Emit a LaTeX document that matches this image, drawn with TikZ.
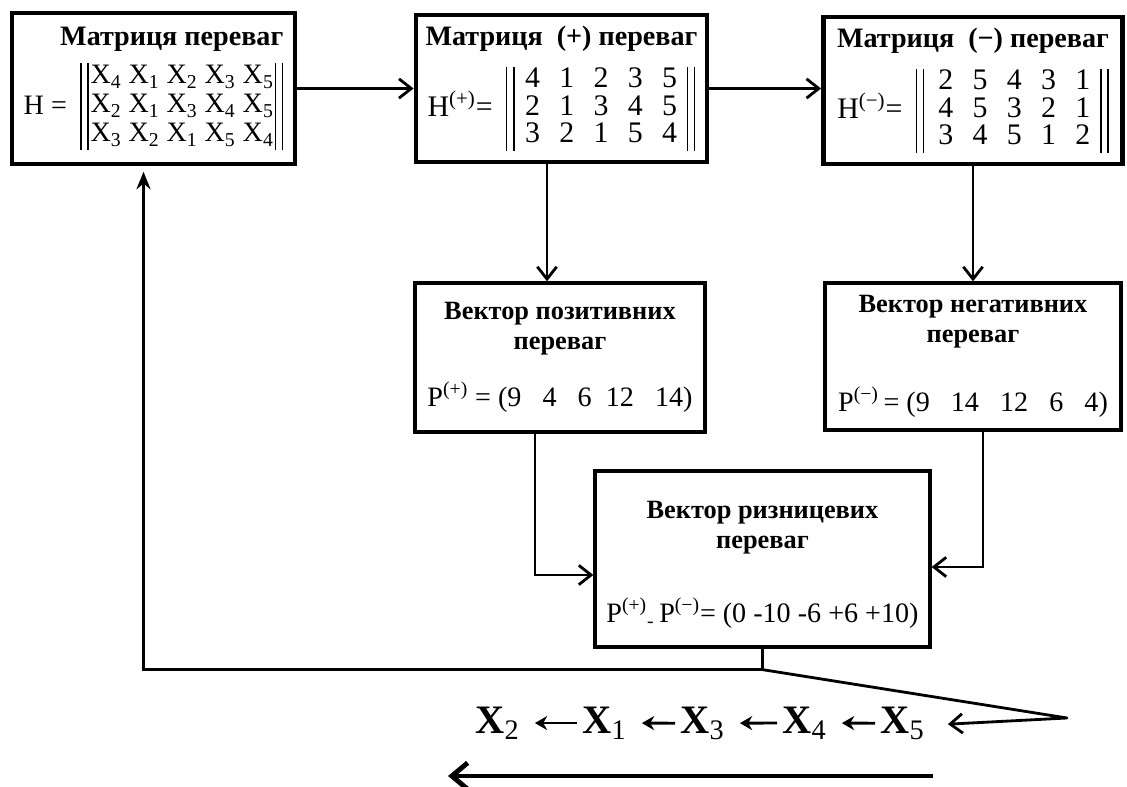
\documentclass[tikz,border=0pt]{standalone}
\usepackage{fontspec}
\setmainfont{Liberation Serif}
\usetikzlibrary{positioning, arrows.meta}
\setlength{\doublerulesep}{4pt}
\setlength{\arrayrulewidth}{0.9pt}

\begin{document}
\begin{tikzpicture}[
  x=0.02cm, y=-0.02cm,
  font=\fontsize{15}{17}\selectfont,
  mbox/.style={draw, rectangle, line width=2.8pt, inner sep=2pt, align=center},
  vbox/.style={draw, rectangle, line width=1.9pt, inner sep=2pt, align=center},
  arr/.style={-{Straight Barb[length=7pt, width=11pt]}, line width=1.6pt},
  uparr/.style={-{Stealth[length=10pt, width=8pt]}, line width=1.6pt},
  link/.style={line width=1.6pt},
  chainx/.style={font=\fontsize{23}{26}\selectfont\bfseries, inner sep=0pt, anchor=base west},
  small/.style={-{Stealth[length=7pt, width=8pt]}, line width=1.6pt,
    shorten >=0.3cm, shorten <=0.1cm},
  bigarr/.style={-{Straight Barb[length=9pt, width=15pt]}, line width=2.8pt},
]
  \renewcommand{\arraystretch}{0.9}
  \useasboundingbox (0,0) rectangle (1127,787);

  % Row 1: the three matrices
  \node[mbox, minimum width=5.66cm, minimum height=3.02cm, align=right] (mat) at (153.5,88.5)
    {{\fontsize{16}{18}\selectfont\bfseries Матриця переваг}\\[6pt]
     \renewcommand{\arraystretch}{0.97}%
     \fontsize{16}{17}\selectfont H =\hspace{8pt}\begin{tabular}{@{}||@{\hspace{1pt}}l*{4}{@{\hspace{4pt}}l}@{\hspace{1pt}}||@{}}
       X\textsubscript{4} & X\textsubscript{1} & X\textsubscript{2} & X\textsubscript{3} & X\textsubscript{5}\\
       X\textsubscript{2} & X\textsubscript{1} & X\textsubscript{3} & X\textsubscript{4} & X\textsubscript{5}\\
       X\textsubscript{3} & X\textsubscript{2} & X\textsubscript{1} & X\textsubscript{5} & X\textsubscript{4}
     \end{tabular}};
  \node[mbox, minimum width=5.82cm, minimum height=2.94cm] (plus) at (561.5,88.5)
    {{\fontsize{16}{18}\selectfont\bfseries Матриця\ \ (+) переваг}\\[8pt]
     \fontsize{17}{17}\selectfont H\textsuperscript{(+)}=\hspace{8pt}\begin{tabular}{@{}||@{\hspace{6pt}}c*{4}{@{\hspace{11pt}}c}@{\hspace{6pt}}||@{}}
       4 & 1 & 2 & 3 & 5\\
       2 & 1 & 3 & 4 & 5\\
       3 & 2 & 1 & 5 & 4
     \end{tabular}};
  \node[mbox, minimum width=5.98cm, minimum height=2.94cm] (minus) at (973,90.5)
    {{\fontsize{16}{18}\selectfont\bfseries Матриця\ \ (−) переваг}\\[8pt]
     \fontsize{17}{17}\selectfont H\textsuperscript{(−)}=\hspace{8pt}\begin{tabular}{@{}||@{\hspace{8pt}}c*{4}{@{\hspace{11pt}}c}@{\hspace{6pt}}||@{}}
       2 & 5 & 4 & 3 & 1\\
       4 & 5 & 3 & 2 & 1\\
       3 & 4 & 5 & 1 & 2
     \end{tabular}};

  % Row 2: positive and negative vectors
  \node[vbox, minimum width=5.8cm, minimum height=2.98cm] (pos) at (560,357.5)
    {{\bfseries Вектор позитивних}\\{\bfseries переваг}\\[14pt]
     \fontsize{16}{18}\selectfont P\textsuperscript{(+)} = (9\enspace\ 4\enspace\ 6\enspace 12\enspace\ 14)};
  \node[vbox, minimum width=5.92cm, minimum height=2.94cm] (neg) at (973,356.5)
    {{\bfseries Вектор негативних}\\{\bfseries переваг}\\[21pt]
     \fontsize{16}{18}\selectfont P\textsuperscript{(−)}\,= (9\enspace\ 14\enspace\ 12\enspace\ 6\enspace\ 4)};

  % Row 3: difference vector
  \node[vbox, minimum width=6.7cm, minimum height=3.52cm] (diff) at (762.5,559)
    {\rule{0pt}{17pt}{\bfseries Вектор ризницевих}\\{\bfseries переваг}\\[24pt]
     \fontsize{16}{18}\selectfont P\textsuperscript{(+)}\textsubscript{-}\,P\textsuperscript{(−)}= (0 -10 -6 +6 +10)};

  % Ranking chain
  \node[chainx] (x2) at (475,733) {X\textsubscript{\mdseries 2}};
  \node[chainx] (x1) at (582,733) {X\textsubscript{\mdseries 1}};
  \node[chainx] (x3) at (680,733) {X\textsubscript{\mdseries 3}};
  \node[chainx] (x4) at (782,733) {X\textsubscript{\mdseries 4}};
  \node[chainx] (x5) at (880,733) {X\textsubscript{\mdseries 5}};
  \draw[small] (x1.west) -- (x2.east);
  \draw[small] (x3.west) -- (x1.east);
  \draw[small] (x4.west) -- (x3.east);
  \draw[small] (x5.west) -- (x4.east);

  % Arrows between blocks
  \draw[arr] (mat.east) -- (plus.west);
  \draw[arr] (plus.east) -- (plus.east -| minus.west);
  \draw[arr] ([xshift=-0.29cm]plus.south) -- ([xshift=-0.29cm]plus.south |- pos.north);
  \draw[arr] (minus.south) -- (minus.south |- neg.north);
  \draw[arr] ([xshift=-0.5cm]pos.south) |- ([yshift=-0.32cm]diff.west);
  \draw[arr] ([xshift=0.2cm]neg.south) |- ([yshift=-0.16cm]diff.east);

  % Feedback loop and ordering
  \coordinate (fork) at ([yshift=-0.42cm]diff.south);
  \coordinate (turn) at (1067,718);
  \draw[link] (diff.south) -- (fork);
  \draw[uparr, shorten >=3pt] (fork) -| ([xshift=-0.2cm]mat.south);
  \draw[arr, line join=round] (fork) -- (turn) -- ([xshift=0.46cm, yshift=-0.02cm]x5.east);

  \coordinate (dirR) at (933,776);
  \coordinate (dirL) at (448,776);
  \draw[bigarr] (dirR) -- (dirL);
\end{tikzpicture}
\end{document}
